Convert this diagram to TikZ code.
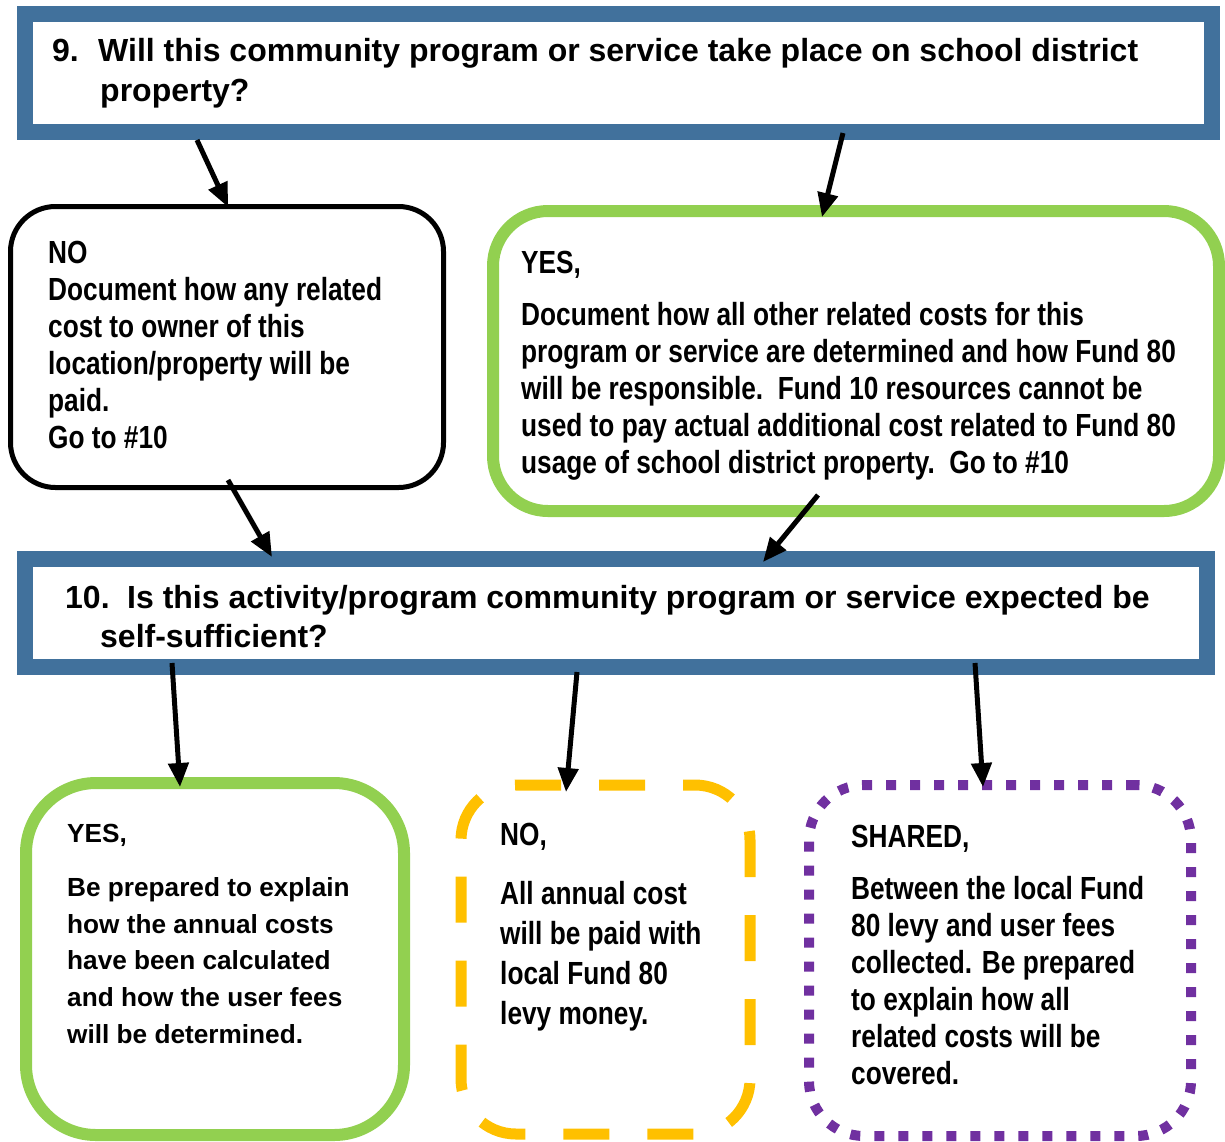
\documentclass[tikz,border=0pt]{standalone}
\usepackage{fontspec}
\setmainfont{Liberation Sans}
\newfontfamily\narrowfont{Liberation Sans}[FakeStretch=0.82]
\usetikzlibrary{arrows.meta,calc}
\definecolor{qblue}{HTML}{41719C}
\definecolor{okgreen}{HTML}{92D050}
\definecolor{noorange}{HTML}{FFC000}
\definecolor{sharedpurple}{HTML}{7030A0}

\begin{document}
\begin{tikzpicture}[x=1pt,y=-1pt,>={Triangle[length=24pt,width=20pt]},
	box/.style={rectangle,outer sep=0pt,inner sep=0pt},
	question/.style={box,draw=qblue,line width=16pt},
	answer/.style={box,rounded corners=#1},
	qtext/.style={anchor=north west,inner sep=0pt,align=left,font=\bfseries\fontsize{32}{40}\selectfont},
	atext/.style={anchor=north west,inner sep=0pt,align=left,font=\narrowfont\bfseries\fontsize{32}{37}\selectfont},
	flow/.style={->,line width=5pt}]

	\useasboundingbox (0,0) rectangle (1225,1141);

	% question 9 and its two answers
	\node[question,minimum width=1187pt,minimum height=118pt] (q9) at (618,73) {};
	\node[qtext] (q9txt) at (52,38.5) {\makebox[46pt][l]{9.}Will this community program or service take place on school district\\\hspace*{48pt}property?};

	\node[answer=45pt,draw=black,line width=5pt,minimum width=433pt,minimum height=281pt] (no9) at (227,347) {};
	\node[atext] (no9txt) at (48,240.5) {NO\\Document how any related\\cost to owner of this\\location/property will be\\paid.\\Go to \#10};

	\node[answer=55pt,draw=okgreen,line width=12pt,minimum width=726pt,minimum height=300pt] (yes9) at (856,361) {};
	\node[atext] (yes9txt) at (521,250.5) {YES,\\[15pt]Document how all other related costs for this\\program or service are determined and how Fund 80\\will be responsible.\ \ Fund 10 resources cannot be\\used to pay actual additional cost related to Fund 80\\usage of school district property.\ \ Go to \#10};

	% question 10 and its three answers
	\node[question,minimum width=1182pt,minimum height=108pt] (q10) at (616,613) {};
	\node[qtext,font=\bfseries\fontsize{32}{39}\selectfont] (q10txt) at (65,585.5) {\makebox[62pt][l]{10.}Is this activity/program community program or service expected be\\\hspace*{35pt}self-sufficient?};

	\node[answer=70pt,draw=okgreen,line width=12pt,minimum width=378pt,minimum height=352pt] (yes10) at (215,959) {};
	\node[atext,font=\bfseries\fontsize{26.2}{36.7}\selectfont] (yes10txt) at (67,824.3) {YES,\\[17pt]Be prepared to explain\\how the annual costs\\have been calculated\\and how the user fees\\will be determined.};

	\node[answer=55pt,draw=noorange,line width=11pt,dash pattern=on 46pt off 38pt,dash phase=34pt,minimum width=289pt,minimum height=349pt] (no10) at (605.5,959.5) {};
	\node[atext,font=\narrowfont\bfseries\fontsize{32}{40}\selectfont] (no10txt) at (500,822.5) {NO,\\[19pt]All annual cost\\will be paid with\\local Fund 80\\levy money.};

	\node[answer=55pt,draw=sharedpurple,line width=10pt,dash pattern=on 10pt off 14pt,minimum width=382pt,minimum height=351pt] (shared) at (1000,960.5) {};
	\node[atext] (sharedtxt) at (851,824.5) {SHARED,\\[15pt]Between the local Fund\\80 levy and user fees\\collected. Be prepared\\to explain how all\\related costs will be\\covered.};

	% connectors
	\path[flow] ($(q9.south west)+(172.5,8)$) edge ($(no9.north west)+(217.5,0.5)$)
		($(q9.south west)+(818.5,1)$) edge ($(yes9.north west)+(329,6)$)
		($(no9.south west)+(217.5,-7.5)$) edge ($(q10.north west)+(247,-2)$)
		($(yes9.south west)+(325,-16)$) edge ($(q10.north west)+(738,3)$)
		($(q10.south west)+(147,-4)$) edge ($(yes10.north west)+(154,4)$)
		($(q10.south west)+(552,5)$) edge ($(no10.north west)+(105,7)$)
		($(q10.south west)+(950,-4)$) edge ($(shared.north west)+(174,2)$);

\end{tikzpicture}
\end{document}
